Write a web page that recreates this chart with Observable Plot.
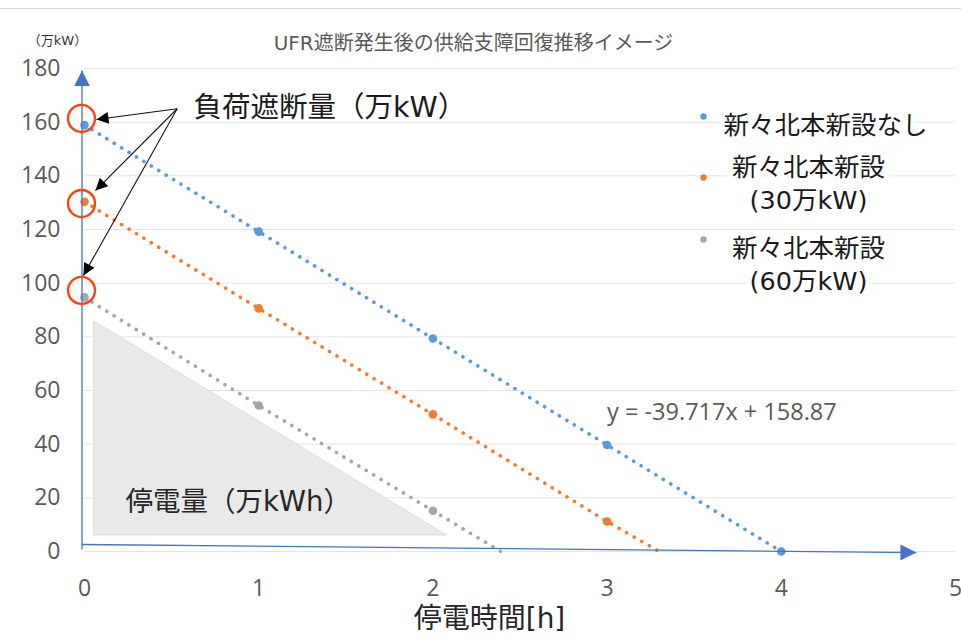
<!DOCTYPE html>
<html><head><meta charset="utf-8">
<script src="https://cdn.jsdelivr.net/npm/d3@7"></script>
<script src="https://cdn.jsdelivr.net/npm/@observablehq/plot@0.6"></script>
<style>
body{margin:0;background:#fff;}
#chart{width:961px;height:642px;overflow:hidden;}
</style>
</head><body><div id="chart"></div>
<script>
// ---- data ----
const hours = [0, 1, 2, 3, 4];
const seriesNames = ["新々北本新設なし", "新々北本新設(30万kW)", "新々北本新設(60万kW)"];
const legendLabels = ["新々北本新設なし", "新々北本新設\n(30万kW)", "新々北本新設\n(60万kW)"];
const noneValues = [158.9, 119.2, 79.4, 39.7, 0];
const plus30Values = [130.3, 90.6, 51.1, 11.2];
const plus60Values = [94.7, 54.4, 15.2];
const trendZeroHours = [4.0, 3.3, 2.39];          // where each dotted trend line reaches 0
const loadShedValues = [161.4, 129.7, 97.3];      // circled load-shedding values at t=0
const colors = ["#5B9BD5", "#ED7D31", "#A5A5A5"];
const xTicks = [0, 1, 2, 3, 4, 5];
const yTicks = [0, 20, 40, 60, 80, 100, 120, 140, 160, 180];
const titleText = "UFR遮断発生後の供給支障回復推移イメージ";
const yUnitText = "（万kW）";
const xLabelText = "停電時間[h]";
const equationText = "y = -39.717x + 158.87";
const shedLabel = "負荷遮断量（万kW）";
const energyLabel = "停電量（万kWh）";

// annotation geometry (data units)
const arrowFrom = {x: 0.532, y: 165.0};
const arrowTips = [{x: 0.069, y: 161.0}, {x: 0.063, y: 134.5}, {x: -0.006, y: 102.9}];
const shade = [{x: 0.057, y1: 6, y2: 85.7}, {x: 2.08, y1: 6, y2: 6}];
const axisArrows = [
  {x1: 0, y1: 0.75, x2: 0, y2: 179.3},
  {x1: 0, y1: 2.6, x2: 4.79, y2: -0.4}
];

// ---- tables ----
const valueSets = [noneValues, plus30Values, plus60Values];
const points = valueSets.flatMap((vals, i) => vals.map((v, j) => ({series: seriesNames[i], hour: hours[j], value: v})));
const trends = valueSets.flatMap((vals, i) => {
  const pts = vals.map((v, j) => ({series: seriesNames[i], hour: hours[j], value: v}));
  if (vals[vals.length - 1] !== 0) pts.push({series: seriesNames[i], hour: trendZeroHours[i], value: 0});
  return pts;
});
const annArrows = arrowTips.map(t => ({x1: arrowFrom.x, y1: arrowFrom.y, x2: t.x, y2: t.y}));

const axisColor = "#4472C4";
const numFont = '"Open Sans", "Noto Sans CJK JP", sans-serif';
const jpFont = '"DejaVu Sans", "Noto Sans CJK JP", sans-serif';

const legendTextDy = [47, 113.5, 194.5];
const legendMarks = seriesNames.flatMap((s, i) => {
  const dotDy = [48, 109, 171][i];
  const marks = [Plot.dot([s], {frameAnchor: "top-left", dx: 619, dy: dotDy, r: 3.2, fill: colors[i]})];
  if (i === 0) {
    marks.push(Plot.text([legendLabels[i]], {frameAnchor: "top-left", dx: 639, dy: legendTextDy[i], text: d => d, textAnchor: "start",
      fontFamily: jpFont, fontSize: 25.5, fill: "#1a1a1a", stroke: "white", strokeWidth: 8, paintOrder: "stroke"}));
  } else {
    marks.push(Plot.text([legendLabels[i]], {frameAnchor: "top-left", dx: 724, dy: legendTextDy[i], text: d => d, textAnchor: "middle",
      lineAnchor: "middle", lineHeight: 1.3, fontFamily: jpFont, fontSize: 25.5, fill: "#1a1a1a", stroke: "white", strokeWidth: 10, paintOrder: "stroke"}));
  }
  return marks;
});

const plot = Plot.plot({
  width: 961, height: 642,
  marginLeft: 84, marginRight: 6, marginTop: 68, marginBottom: 91,
  style: {fontFamily: numFont, fontSize: "23px", color: "#595959", background: "white"},
  x: {domain: [0, 5], ticks: xTicks, tickFormat: d3.format("d"), tickSize: 0, tickPadding: 28, label: null},
  y: {domain: [0, 180], ticks: yTicks, tickFormat: d3.format("d"), tickSize: 0, tickPadding: 24, label: null},
  color: {domain: seriesNames, range: colors},
  marks: [
    Plot.ruleY(yTicks, {stroke: "#e4e4e4", strokeWidth: 1}),
    Plot.areaY(shade, {x: "x", y1: "y1", y2: "y2", fill: "#e9e9e9", stroke: "#dcdcdc", strokeWidth: 1}),
    Plot.text([energyLabel], {x: () => 0.235, y: () => 18.3, text: d => d, textAnchor: "start", fontFamily: jpFont, fontSize: 27.5, fill: "#262626"}),
    Plot.line(trends, {x: "hour", y: "value", z: "series", stroke: "series", strokeWidth: 3.6,
      strokeDasharray: "0.1 8.6", strokeLinecap: "round"}),
    Plot.dot(points, {x: "hour", y: "value", fill: "series", r: 4.3}),
    Plot.link(axisArrows, {x1: "x1", y1: "y1", x2: "x2", y2: "y2", dx: -2.5, stroke: axisColor, strokeWidth: 1.3}),
    Plot.dot(loadShedValues, {x: () => 0, y: d => d, dx: -3, r: 13.5, stroke: "#FF3F14", strokeWidth: 2.4, fill: "none"}),
    Plot.link(annArrows, {x1: "x1", y1: "y1", x2: "x2", y2: "y2", stroke: "#111", strokeWidth: 1.1}),
    Plot.text([shedLabel], {x: () => 0.626, y: () => 165.5, text: d => d, textAnchor: "start", fontFamily: jpFont, fontSize: 28.5, fill: "#1a1a1a"}),
    Plot.text([equationText], {x: () => 3.0, y: () => 51.8, text: d => d, textAnchor: "start", fontFamily: numFont, fontSize: 23.5, fill: "#595959"}),
    ...legendMarks,
    Plot.text([titleText], {frameAnchor: "top-left", dx: 389, dy: -33, text: d => d, textAnchor: "middle", fontFamily: jpFont, fontSize: 20, fill: "#595959"}),
    Plot.text([yUnitText], {frameAnchor: "top-left", dx: -27, dy: -33, text: d => d, textAnchor: "middle", fontFamily: jpFont, fontSize: 13, fill: "#333"}),
    Plot.text([xLabelText], {frameAnchor: "bottom-left", dx: 405, dy: 76, text: d => d, textAnchor: "middle", fontFamily: jpFont, fontSize: 28, fill: "#262626"})
  ]
});

// filled triangular arrowheads
const svg = d3.select(plot);
const defs = svg.insert("defs", ":first-child");
function addMarker(id, color, w, h) {
  defs.append("marker").attr("id", id).attr("viewBox", "0 0 10 10").attr("refX", 10).attr("refY", 5)
    .attr("markerWidth", w).attr("markerHeight", h).attr("markerUnits", "userSpaceOnUse").attr("orient", "auto")
    .append("path").attr("d", "M0,0L10,5L0,10Z").attr("fill", color);
}
addMarker("tri-black", "#000", 16, 12);
addMarker("tri-blue", axisColor, 16, 16);
svg.selectAll('g[aria-label="link"]').each(function() {
  const s = (this.getAttribute("stroke") || "").toLowerCase();
  d3.select(this).selectAll("path").attr("marker-end", s === axisColor.toLowerCase() ? "url(#tri-blue)" : "url(#tri-black)");
});
svg.insert("line", "defs + *").attr("x1", 0).attr("x2", 961).attr("y1", 8.5).attr("y2", 8.5).attr("stroke", "#d9d9d9");

document.getElementById("chart").appendChild(plot);
</script>
</body></html>
